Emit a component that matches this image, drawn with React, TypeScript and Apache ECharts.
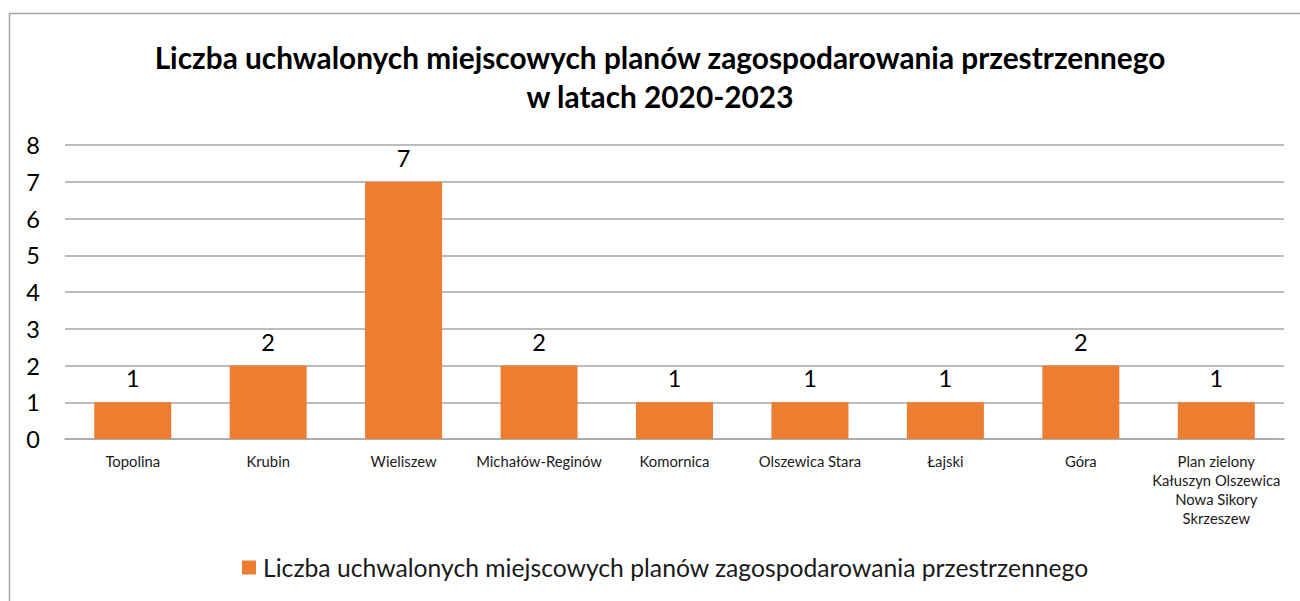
import React, { useEffect, useRef } from "react";
import * as echarts from "echarts";

const categories = [
  "Topolina",
  "Krubin",
  "Wieliszew",
  "Michałów-Reginów",
  "Komornica",
  "Olszewica Stara",
  "Łajski",
  "Góra",
  "Plan zielony\nKałuszyn Olszewica\nNowa Sikory\nSkrzeszew",
];
const values = [1, 2, 7, 2, 1, 1, 1, 2, 1];
const seriesName = "Liczba uchwalonych miejscowych planów zagospodarowania przestrzennego";
const titleText = "Liczba uchwalonych miejscowych planów zagospodarowania przestrzennego\nw latach 2020-2023";

const FONT = "Lato, 'Open Sans', sans-serif";

export default function App() {
  const ref = useRef<HTMLDivElement>(null);
  useEffect(() => {
    document.body.style.margin = "0";
    const chart = echarts.init(ref.current!, null, { renderer: "svg" });
    chart.setOption({
      animation: false,
      backgroundColor: "#ffffff",
      textStyle: { fontFamily: FONT },
      graphic: [
        { type: "line", shape: { x1: 9.5, y1: 13, x2: 9.5, y2: 601 }, style: { stroke: "#a6a6a6", lineWidth: 1.5 } },
        { type: "line", shape: { x1: 9, y1: 13.5, x2: 1300, y2: 13.5 }, style: { stroke: "#a6a6a6", lineWidth: 1.5 } },
        {
          type: "text",
          x: 660,
          y: 37.5,
          style: {
            text: titleText,
            fontFamily: FONT,
            fontSize: 29.8,
            fontWeight: "bold",
            fill: "#000000",
            lineHeight: 39,
            align: "center",
            verticalAlign: "top",
          },
        },
      ],
      grid: { left: 65, right: 16, top: 145, bottom: 162, containLabel: false },
      xAxis: {
        type: "category",
        data: categories,
        axisLine: { show: true, lineStyle: { color: "#a6a6a6", width: 1.5 } },
        axisTick: { show: false },
        axisLabel: {
          interval: 0,
          fontSize: 14.8,
          color: "#1a1a1a",
          margin: 12,
          lineHeight: 19,
          fontFamily: FONT,
        },
      },
      yAxis: {
        type: "value",
        min: 0,
        max: 8,
        interval: 1,
        axisLine: { show: false },
        axisTick: { show: false },
        axisLabel: { fontSize: 23.5, color: "#000000", margin: 25, fontFamily: FONT },
        splitLine: { lineStyle: { color: "#a6a6a6", width: 1.5 } },
      },
      legend: {
        bottom: 16,
        left: 237,
        icon: "rect",
        itemWidth: 14,
        itemHeight: 14,
        itemGap: 10,
        textStyle: { fontSize: 24.7, color: "#1a1a1a", fontFamily: FONT, padding: [0, 0, 0, 2] },
        data: [seriesName],
      },
      series: [
        {
          name: seriesName,
          type: "bar",
          data: values,
          barWidth: 77,
          itemStyle: { color: "#ED7D31" },
          label: {
            show: true,
            position: "top",
            distance: 12,
            fontSize: 23.5,
            color: "#000000",
            fontFamily: FONT,
          },
        },
      ],
    });
    return () => chart.dispose();
  }, []);
  return <div ref={ref} style={{ width: 1300, height: 601 }} />;
}
